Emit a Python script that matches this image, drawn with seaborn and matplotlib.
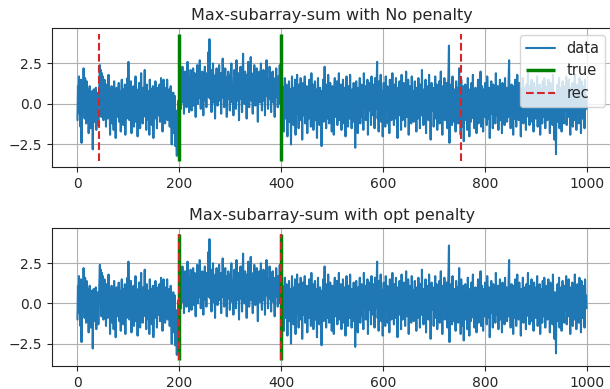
import matplotlib
matplotlib.use("Agg")
import matplotlib.pyplot as plt
import numpy as np
import seaborn as sns

# signal values read (roughly) off the reference, three segments
seg_a = [
    -1.0, 1.1, 0.2, 1.7, -0.6, 0.9, -1.4, 1.5, -2.4, 0.4, 1.2, -0.3, 2.2, 0.8, -0.9, 1.6, 0.1, -1.2, 1.4, 0.5,
    -0.7, 0.9, -1.8, 0.3, 1.1, -0.4, -1.5, 0.6, -0.2, 0.8, -2.8, -0.5, 0.9, -1.1, 0.2, -0.6, 1.0, -1.6, 0.4, -0.3,
    0.7, -1.3, 0.1, 1.3, 2.4, 0.6, 2.1, -0.8, 1.9, 0.3, 1.7, -1.0, 0.5, 1.5, -0.4, 0.8, -1.4, 1.2, 0.2, -0.9,
    0.6, 1.8, -0.7, 0.3, -1.9, 0.9, -0.2, 1.1, -1.2, 0.4, 0.0, -1.6, 1.4, -0.5, 0.7, -2.1, 0.2, 1.0, -0.8, 0.5,
    -0.3, 1.3, -1.1, 0.8, 0.1, -1.7, 0.6, 1.5, -0.6, 0.2, -1.3, 0.9, -0.1, 1.2, -1.9, 0.4, 0.7, -0.9, 1.6, -0.4,
    2.6, 0.3, -1.0, 0.9, -0.5, 1.4, -1.8, 0.2, 0.8, -0.7, 1.1, -1.4, 0.5, -0.2, 1.7, -1.1, 0.0, 0.6, -2.0, 0.9,
    -0.6, 1.3, 0.2, -1.5, 0.7, 1.9, -0.3, 0.4, -1.2, 1.0, -0.8, 0.3, 2.1, -0.4, 0.6, -1.6, 1.2, -0.1, 0.5, -1.0,
    0.8, -1.9, 1.5, 0.1, -0.6, 0.9, -1.3, 0.4, 1.1, -2.1, 0.2, 0.7, -0.9, 1.4, -0.2, 0.6, -1.5, 0.3, 1.0, -0.7,
    0.5, 1.2, -1.1, 0.0, 1.6, -0.5, 0.8, -1.7, 0.3, 1.5, -0.8, 0.2, -1.2, 1.0, 0.4, -0.3, 1.5, -1.0, 0.6, -0.4,
    0.9, -1.4, 0.1, 1.1, -0.6, -2.5, 0.3, -1.1, 0.7, -1.8, -0.2, 0.5, -2.6, -0.9, -1.5, -3.2, -0.4, -2.2, 0.2, -1.3,
]
seg_b = [
    3.0, 0.4, 1.8, -0.3, 1.2, 0.7, 2.3, 0.1, 1.5, -0.6, 0.9, 2.0, 0.3, 1.4, -0.2, 1.1, 2.6, 0.5, 1.7, -0.5,
    1.3, 0.2, 2.1, 0.8, -0.4, 1.6, 0.6, 2.2, -0.1, 1.0, 1.9, 0.3, -0.8, 1.5, 0.7, 2.4, 0.0, 1.2, 1.8, 0.4,
    2.7, 0.9, -0.3, 1.4, 0.5, 2.0, 1.1, -0.7, 1.7, 0.6, 2.3, 0.2, 1.3, -0.2, 1.9, 0.8, 1.0, 3.2, 0.4, 4.0,
    1.2, 0.3, 2.1, -0.5, 1.6, 0.9, 2.5, 0.1, 1.4, 0.7, -0.9, 1.8, 0.5, 2.2, 1.0, -0.1, 1.5, 0.6, 2.4, 0.2,
    1.1, 1.9, -0.6, 1.3, 0.4, 2.8, 0.8, 1.6, -0.2, 1.0, 2.2, 0.5, 1.4, -0.8, 1.7, 0.3, 2.0, 0.9, 1.2, -0.4,
    1.8, 0.6, 2.5, 0.1, 1.3, 0.9, -0.7, 1.6, 2.1, 0.4, 1.0, -0.3, 2.7, 0.7, 1.5, 0.2, 1.9, -1.0, 1.2, 0.8,
    2.3, 0.3, 1.4, -0.5, 1.7, 3.1, 0.5, 1.1, 0.0, 2.0, 0.6, 1.3, -0.9, 1.8, 0.4, 2.6, 0.9, -0.2, 1.5, 0.7,
    2.9, 0.2, 1.2, 0.8, -0.6, 1.9, 0.5, 2.4, 1.0, -0.1, 1.6, 0.3, 2.2, 0.7, -1.1, 1.4, 0.6, 2.0, 0.1, 1.1,
    2.5, 0.4, -0.4, 1.7, 0.9, 2.1, 0.2, 1.3, -0.7, 1.8, 0.5, 2.7, 0.8, 1.0, -0.3, 1.5, 0.3, 2.3, 0.6, 1.2,
    -0.5, 1.9, 0.7, 2.0, 0.1, 1.4, 0.9, -0.8, 1.6, 0.4, 2.2, 0.6, 1.1, -0.2, 1.7, 0.5, 0.8, 2.4, 0.0, 1.3,
]
seg_c = [
    0.6, -1.4, 1.1, -0.2, 0.8, -1.7, 0.3, 1.6, -0.9, 0.1, 1.2, -0.5, -2.0, 0.7, -0.3, 1.4, -1.1, 0.4, 0.9, -2.5,
    0.2, 1.7, -0.8, 0.5, -1.3, 1.0, -0.1, 1.5, -1.9, 0.6, 0.0, 1.8, -0.6, 0.3, -1.5, 1.2, 0.8, -1.0, 1.6, -0.4,
    0.9, -2.2, 0.4, 1.3, -0.7, 0.1, 1.7, -1.2, 0.6, -0.3, 1.1, -1.8, 0.2, 0.8, -0.9, 1.5, -0.2, 0.5, -1.4, 1.9,
    -0.5, 0.7, 1.2, -1.6, 0.3, -0.1, 1.4, -1.0, 0.9, 0.2, -2.1, 0.6, 1.6, -0.4, 0.1, -1.3, 1.0, -0.7, 0.4, -2.6,
    0.8, -0.2, 1.5, -1.1, 0.3, 2.3, -0.6, 0.5, -1.5, 1.2, 0.0, -0.9, 1.8, 0.2, -1.2, 0.7, 1.3, -0.4, 0.6, -1.7,
    1.1, -0.3, 0.4, -1.9, 0.9, 1.6, -0.8, 0.2, -0.5, 1.4, -1.3, 0.6, 0.1, 1.9, -1.0, 0.3, -0.2, 1.2, -1.6, 0.8,
    -0.4, 1.5, 0.0, -1.2, 0.7, 1.0, -2.0, 0.4, 1.7, -0.6, 0.2, -1.4, 1.1, 0.5, -0.9, 1.8, -0.1, 0.6, -1.5, 0.9,
    0.3, -1.1, 1.3, -0.5, 0.8, -2.7, 0.1, 1.4, -0.7, 0.5, -1.8, 1.0, 0.2, -0.3, 1.6, -1.2, 0.7, 0.0, 1.2, -0.8,
    0.4, -1.6, 1.9, -0.2, 0.6, 1.1, -1.0, 0.3, -0.6, 1.5, -1.9, 0.8, 0.1, 1.3, -0.4, 0.5, -1.3, 1.7, -0.1, 0.9,
    -0.7, 1.2, 0.2, -1.5, 1.6, 0.4, -0.3, 1.0, 2.6, -0.9, 0.6, -1.7, 1.4, 0.0, -0.6, 1.8, -1.1, 0.3, 0.8, -2.0,
    0.5, 1.3, -0.8, 0.2, -1.4, 1.7, 0.1, -0.5, 1.1, -1.2, 0.7, 0.3, -1.8, 1.5, -0.2, 0.9, -1.0, 0.4, 1.9, -0.6,
    0.0, -1.3, 1.2, 0.6, -0.9, 1.6, -0.4, 0.2, -2.1, 1.0, 0.8, -0.7, 1.4, -0.1, 0.5, -1.6, 1.8, 0.3, -1.0, 0.7,
    1.3, -0.5, 0.1, -1.4, 0.9, 2.0, -0.8, 0.4, -0.2, 1.5, -1.9, 0.6, 1.1, -0.3, 0.2, -1.2, 1.7, 0.0, -0.6, 0.8,
    -1.1, 0.5, 1.4, -0.4, 0.3, -1.7, 1.0, 0.7, -0.9, 1.6, -0.2, 0.4, -1.5, 1.2, 0.1, -0.7, 2.1, -0.3, 0.6, -1.3,
    0.9, 0.2, -0.6, 1.5, -1.8, 0.4, 1.1, -0.1, 0.7, -1.0, 1.8, -0.5, 0.3, -2.2, 0.8, 1.3, -0.4, 0.0, 1.0, -1.4,
    0.6, -0.2, 1.7, -0.9, 0.4, 1.2, -1.6, 0.1, 0.9, -0.5, 1.4, -1.2, 0.3, 2.0, -0.7, 0.5, -1.9, 1.1, 0.2, -0.3,
    1.6, -1.0, 0.7, -0.4, 1.3, 0.0, -1.5, 0.8, 1.9, 3.6, -2.4, 0.5, -0.8, 1.2, 0.3, -1.3, 1.7, -0.2, 0.6, -1.1,
    0.9, 0.1, -1.7, 1.4, -0.3, 0.6, 1.0, -1.2, 0.4, 2.2, -0.6, 0.2, -1.9, 1.5, -0.1, 0.8, -1.4, 1.1, -2.3, 0.3,
    -0.5, 1.2, -1.0, 0.7, 0.0, -1.6, 1.6, -0.4, 0.5, -2.0, 0.9, 0.2, -1.1, 1.3, -0.7, 0.4, 1.8, -0.9, 0.1, -1.5,
    0.6, 1.0, -0.3, -1.8, 0.8, 0.3, 1.5, -1.2, 0.0, 0.7, -0.6, 2.0, -1.4, 0.4, 1.1, -0.2, -1.7, 0.9, 0.5, -0.8,
    1.3, -0.4, 0.2, -1.3, 1.7, 0.6, -0.9, 0.1, 1.0, -2.1, 0.8, -0.1, 1.4, -0.6, 0.3, -1.5, 1.2, 0.5, -0.3, 0.9,
    -1.2, 1.9, 0.0, -0.7, 0.6, 1.1, -1.6, 0.4, -0.2, 1.5, -1.0, 0.7, 0.2, -1.8, 1.3, -0.5, 0.9, 0.1, -1.3, 1.6,
    -0.4, 0.5, 1.0, -1.1, 0.3, -0.8, 1.4, 2.7, -0.6, 0.2, -1.5, 0.8, 1.2, -0.3, 0.6, -1.9, 1.1, 0.0, -0.9, 1.5,
    0.4, -1.4, 0.7, 1.8, -0.2, 0.1, -1.0, 1.3, -0.6, 0.5, -2.0, 0.9, 0.3, -0.4, 1.6, -1.2, 0.2, 1.0, -0.7, 0.6,
    -1.6, 1.2, 0.4, -0.1, 1.9, -0.8, 0.6, -1.3, 1.1, 0.0, -0.5, 1.5, -1.1, 0.3, 0.8, -1.7, 1.3, -0.2, 0.5, -0.9,
    1.0, -0.3, 1.7, -1.4, 0.2, 0.7, -0.6, 1.2, -1.9, 0.4, 0.9, -0.1, -1.2, 1.4, 0.1, -0.8, 1.6, 0.5, -1.5, 0.3,
    -0.2, 1.1, -1.0, 0.6, 1.5, -0.7, 0.0, -1.8, 1.3, 0.4, -0.5, 0.9, -1.3, 1.8, -0.4, 0.2, -2.2, 0.7, 0.1, -3.1,
    0.5, -1.1, 1.2, -0.6, 0.3, 1.6, -1.5, 0.8, -0.2, 1.0, -1.7, 0.4, 1.4, -0.9, 0.0, -1.2, 1.1, 0.6, -0.4, 1.7,
    -1.3, 0.2, 0.9, -0.8, 1.5, -0.3, 0.5, -1.9, 1.0, 0.1, -0.6, 1.3, -1.4, 0.7, 0.3, -1.0, 1.8, -0.5, 0.4, -1.6,
    0.8, 1.2, -0.7, 0.1, -1.2, 1.6, -0.2, 0.6, -1.8, 1.4, 0.3, -0.9, 1.1, -0.4, 0.7, -1.5, 1.5, -0.1, 0.5, -0.3,
]

true_bkps = [200, 400]
rec_no_penalty = [42, 752]
rec_opt_penalty = [200, 400]
titles = ["Max-subarray-sum with No penalty", "Max-subarray-sum with opt penalty"]

signal = np.array(seg_a + seg_b + seg_c)
t = np.arange(len(signal))

sns.set_style("ticks")
plt.rcParams["font.family"] = ["DejaVu Sans"]
plt.rcParams["axes.grid"] = True
plt.rcParams["grid.color"] = "#b0b0b0"
plt.rcParams["grid.linewidth"] = 0.8

fig = plt.figure(figsize=(6.1, 3.89), dpi=100)
ax1 = fig.add_axes([0.0852, 0.5707, 0.919, 0.3573])
ax2 = fig.add_axes([0.0852, 0.0591, 0.919, 0.3547])

lo, hi = signal.min() - 0.3, signal.max() + 0.3

for ax, rec, title in [(ax1, rec_no_penalty, titles[0]), (ax2, rec_opt_penalty, titles[1])]:
    sns.lineplot(x=t, y=signal, ax=ax, color="#1f77b4", linewidth=1.5, label="data")
    ax.vlines(true_bkps, lo, hi, colors="green", linewidth=2.5, label="true")
    ax.vlines(rec, lo, hi, colors="#d62728", linestyles="--", linewidth=1.5, label="rec")
    ax.set_title(title, fontsize=11.5)
    ax.set_xlim(-50, 1050)
    ax.set_xticks([0, 200, 400, 600, 800, 1000])
    ax.set_yticks([-2.5, 0.0, 2.5])
    ax.tick_params(labelsize=10)
    for s in ax.spines.values():
        s.set_color("#222222")

ax1.legend(loc="upper right", fontsize=10.5)
ax2.get_legend().remove()

fig.savefig("out.png", dpi=100)
